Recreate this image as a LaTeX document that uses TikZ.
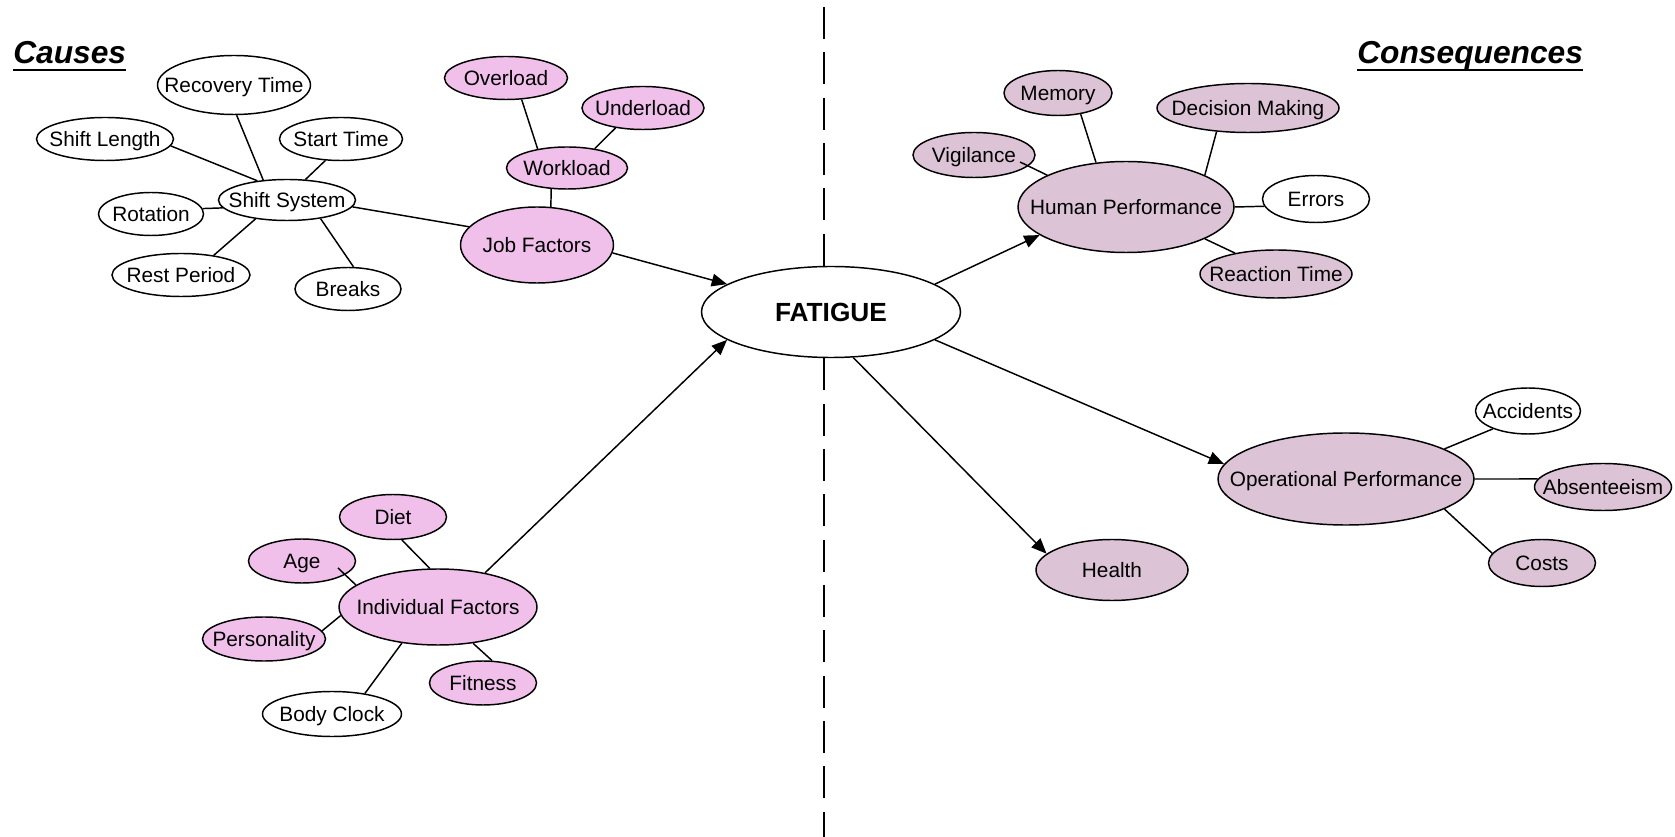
\documentclass[tikz,border=0pt]{standalone}
\usepackage{fontspec}
\setmainfont{Liberation Sans}
\usetikzlibrary{shapes.geometric,arrows.meta}
\definecolor{pinkfill}{RGB}{240,192,235}
\definecolor{mauvefill}{RGB}{220,195,214}
\newcommand\T[1]{\makebox[0pt]{#1}}
\begin{document}
\begin{tikzpicture}[x=0.75pt,y=-0.75pt,
 bub/.style={ellipse,draw,line width=1.1pt,inner sep=0pt,text depth=0pt,font=\fontsize{15.6}{18}\selectfont},
 sz/.style 2 args={minimum width=#1*0.75pt,minimum height=#2*0.75pt},
 pk/.style={bub,fill=pinkfill}, mv/.style={bub,fill=mauvefill}, wh/.style={bub,fill=white},
 link/.style={line width=1.1pt},
 arr/.style={line width=1.1pt,-{Triangle[length=11.5pt,width=9.5pt]}},
 dashline/.style={line width=1.3pt,dash pattern=on 24pt off 10pt},
 head/.style={anchor=base west,inner sep=0pt,font=\fontsize{23.8}{28}\selectfont\bfseries\itshape}]
\useasboundingbox (0,0) rectangle (1675,837);

% headings
\node[head] (causes) at (13,64) {Causes};
\node[head] (cons) at (1357,64) {Consequences};
\draw[line width=1.5pt] ([yshift=-4.5pt]causes.base west) -- ([yshift=-4.5pt]causes.base east);
\draw[line width=1.5pt] ([yshift=-4.5pt]cons.base west) -- ([yshift=-4.5pt]cons.base east);

% centre
\node[bub,fill=white,sz={259}{91},font=\fontsize{19.7}{22}\selectfont\bfseries] (fat) at (831,312) {\T{FATIGUE}};
\coordinate (dtop) at (824,0);
\coordinate (dbot) at (824,837);
\draw[dashline] (fat.north -| dtop) -- (dtop);
\draw[dashline] (fat.south -| dbot) -- (dbot);

% job factors cluster
\node[wh,sz={153}{59}] (rec) at (234,85) {\T{Recovery Time}};
\node[wh,sz={137}{43}] (slen) at (105,139) {\T{Shift Length}};
\node[wh,sz={123}{43}] (start) at (341,139) {\T{Start Time}};
\node[wh,sz={137}{41}] (ss) at (287,200) {\T{Shift System}};
\node[wh,sz={105}{43}] (rot) at (151,214) {\T{Rotation}};
\node[wh,sz={138}{43}] (rest) at (181,275) {\T{Rest Period}};
\node[wh,sz={106}{43}] (brk) at (348,289) {\T{Breaks}};
\node[pk,sz={123}{43}] (over) at (506,78) {\T{Overload}};
\node[pk,sz={122}{43}] (under) at (643,108) {\T{Underload}};
\node[pk,sz={121}{42}] (work) at (567,168) {\T{Workload}};
\node[pk,sz={153}{76}] (job) at (537,245) {\T{Job Factors}};

% individual factors cluster
\node[pk,sz={107}{45}] (diet) at (393,517) {\T{Diet}};
\node[pk,sz={107}{44}] (age) at (302,561) {\T{Age}};
\node[pk,sz={198}{76}] (ind) at (438,607) {\T{Individual Factors}};
\node[pk,sz={123}{44}] (pers) at (264,639) {\T{Personality}};
\node[pk,sz={107}{44}] (fit) at (483,683) {\T{Fitness}};
\node[wh,sz={139}{45}] (body) at (332,714) {\T{Body Clock}};

% human performance cluster
\node[mv,sz={122}{45}] (vig) at (974,155) {\T{Vigilance}};
\node[mv,sz={108}{45}] (mem) at (1058,93) {\T{Memory}};
\node[mv,sz={182}{49}] (dec) at (1248,108) {\T{Decision Making}};
\node[mv,sz={216}{91}] (hp) at (1126,207) {\T{Human Performance}};
\node[wh,sz={107}{47}] (err) at (1316,199) {\T{Errors}};
\node[mv,sz={152}{48}] (react) at (1276,274) {\T{Reaction Time}};

% operational performance cluster
\node[mv,sz={256}{92}] (op) at (1346,479) {\T{Operational Performance}};
\node[wh,sz={105}{46}] (acc) at (1528,411) {\T{Accidents}};
\node[mv,sz={137}{47}] (abs) at (1603,487) {\T{Absenteeism}};
\node[mv,sz={107}{47}] (cost) at (1542,563) {\T{Costs}};
\node[mv,sz={152}{61}] (health) at (1112,570) {\T{Health}};

% links: shift system
\draw[link] (rec.-85) -- (ss.140);
\draw[link] (slen.-6) -- (ss.147);
\draw[link] (start.-126) -- (ss.48);
\draw[link] (rot.6) -- (ss.187);
\draw[link] (rest.31) -- (ss.211);
\draw[link] (brk.76) -- (ss.-29);
\draw[link] (ss.-6) -- (job.165);
% workload
\draw[link] (work.-127) -- (job.70);
\draw[link] (over.-54) -- (work.147);
\draw[link] (under.-144) -- (work.35);
% individual factors
\draw[link] (diet.-69) -- (ind.102);
\draw[link] ([shift={(36,7)}]age.center) -- (ind.165);
\draw[link] (pers.8) -- (ind.185);
\draw[link] (fit.68) -- (ind.-46);
\draw[link] (body.32) -- (ind.-135);
% human performance
\draw[link] ([shift={(46,7)}]vig.center) -- (hp.158);
\draw[link] (mem.-43) -- (hp.124);
\draw[link] (dec.-143) -- (hp.22);
\draw[link] (err.188) -- (hp.0);
\draw[link] (react.153) -- (hp.-22);
% operational performance
\draw[link] (acc.207) -- (op.17);
\draw[link] (abs.173) -- (op.0);
\draw[link] (cost.169) -- (op.-17);

% arrows
\draw[arr] (job.-6) -- (fat.165);
\draw[arr] (ind.36) -- (fat.195);
\draw[arr] (fat.15) -- (hp.198);
\draw[arr] (fat.-15) -- (op.173);
\draw[arr] (fat.-64) -- (health.166);
\end{tikzpicture}
\end{document}
